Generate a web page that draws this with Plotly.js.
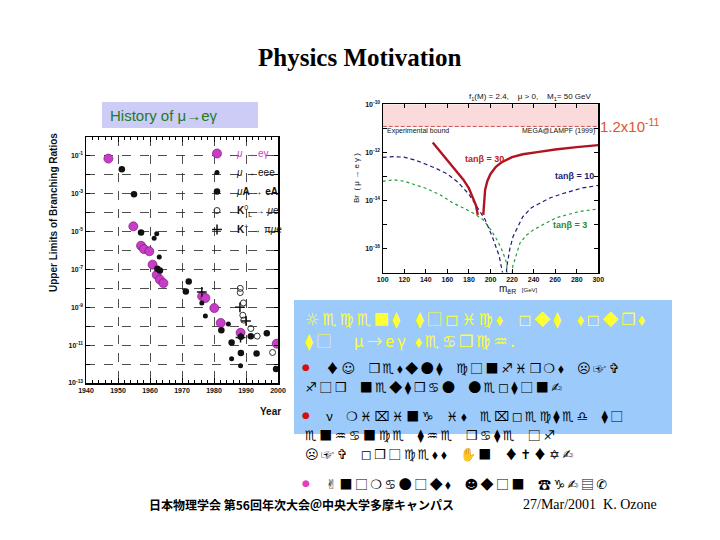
<!DOCTYPE html>
<html><head><meta charset="utf-8">
<script src="https://cdn.plot.ly/plotly-3.0.1.min.js"></script>
<style>body{margin:0;background:#fff}</style>
</head><body>
<div id="chart" style="width:720px;height:540px"></div>
<script>
// ---------- Left chart: history of upper limits ----------
const yearsMEG = [1947.0, 1954.8, 1957.2, 1958.1, 1959.8, 1960.8, 1962.1, 1963.1, 1964.2, 1976.3, 1977.3, 1980.1, 1982.1, 1988.3, 1999.6];
const brMEG    = [7.2e-2, 1.9e-5, 1.8e-6, 1.2e-6, 9.1e-7, 1.8e-7, 5.2e-8, 2.9e-8, 1.9e-8, 3.8e-9, 3.1e-9, 9.1e-10, 1.5e-10, 4.5e-11, 1.2e-11];
const yearsEEE = [1961.3, 1962.1, 1962.9, 1976.2, 1977.3, 1984.5, 1985.5, 1988.3];
const brEEE    = [4.5e-6, 7.6e-6, 4.5e-7, 1.7e-9, 3.5e-10, 1.3e-10, 1.9e-12, 8.1e-13];
const yearsMuA = [1951.2, 1955.0, 1957.2, 1962.3, 1963.1, 1972.1, 1971.2, 1982.3, 1985.5, 1988.4, 1988.4, 1991.5, 1993.3, 1996.5, 1999.4];
const brMuA    = [2.0e-2, 9.5e-4, 9.1e-6, 1.1e-7, 8.9e-8, 2.3e-8, 6.9e-9, 6.2e-11, 1.4e-11, 2.8e-11, 3.9e-12, 3.0e-11, 3.6e-12, 4.2e-11, 5.5e-13];
const yearsKL  = [1988.2, 1988.2, 1989.2, 1989.0, 1989.3, 1991.5, 1993.5, 1998.3];
const brKL     = [1.0e-8, 6.0e-9, 1.7e-9, 3.8e-10, 2.1e-10, 7.6e-11, 3.0e-11, 4.1e-12];
const yearsKp  = [1976.2, 1988.1, 1990.0, 1988.3];
const brKp     = [6.5e-9, 1.0e-9, 1.9e-10, 2.5e-11];
const yearTicks = [1940, 1950, 1960, 1970, 1980, 1990, 2000];
const histYTicks = [1e-13,1e-12,1e-11,1e-10,1e-9,1e-8,1e-7,1e-6,1e-5,1e-4,1e-3,1e-2,1e-1,1];
const histYText  = ['10<sup>-13</sup>','','10<sup>-11</sup>','','10<sup>-9</sup>','','10<sup>-7</sup>','','10<sup>-5</sup>','','10<sup>-3</sup>','','10<sup>-1</sup>',''];

// ---------- Right chart: Br(mu -> e gamma) vs slepton mass ----------
const m30L  = [146.4, 150, 155, 160, 165, 170, 175, 180, 184, 186.5, 188.2];
const br30L = [2.6e-12, 1.66e-12, 8.9e-13, 4.8e-13, 2.5e-13, 1.3e-13, 7.1e-14, 3.2e-14, 1.26e-14, 6.3e-15, 2.5e-15];
const m30R  = [193.3, 194, 195, 197, 200, 205, 210, 220, 230, 245, 260, 280, 300];
const br30R = [2.5e-15, 1.0e-14, 2.75e-14, 6.3e-14, 1.26e-13, 2.5e-13, 3.8e-13, 6.3e-13, 8.3e-13, 1.05e-12, 1.32e-12, 1.66e-12, 2.0e-12];
const m10   = [100, 110, 120, 130, 140, 150, 160, 170, 180, 188, 195, 202, 208, 212, 213, 215, 218, 221, 225, 230, 238, 246, 255, 265, 275, 285, 300];
const br10  = [6.2e-13, 6.6e-13, 6.3e-13, 4.8e-13, 3.2e-13, 2.1e-13, 1.26e-13, 5.6e-14, 1.8e-14, 5.0e-15, 1.6e-15, 2.8e-16, 5.0e-17, 6.3e-18, 1e-19, 1.6e-17, 1.0e-16, 3.2e-16, 7.9e-16, 2.1e-15, 5.0e-15, 7.9e-15, 1.26e-14, 1.8e-14, 2.5e-14, 3.3e-14, 4.2e-14];
const m3    = [100, 110, 120, 131, 140, 153, 165, 175, 185, 193, 200, 206, 211, 215, 217.5, 220.6, 224, 227.4, 233, 240, 250, 261, 272, 283, 300];
const br3   = [6.2e-14, 7.2e-14, 6.3e-14, 4.5e-14, 3.2e-14, 1.74e-14, 7.9e-15, 4.8e-15, 2.8e-15, 1.6e-15, 6.3e-16, 2.3e-16, 7.9e-17, 2.5e-17, 1e-19, 1.8e-17, 6.3e-17, 1.7e-16, 3.5e-16, 6.0e-16, 1.05e-15, 1.9e-15, 2.6e-15, 3.5e-15, 4.4e-15];
const boundM   = [100, 300];
const boundBr  = [1.2e-11, 1.2e-11];
const boundTop = [1e-10, 1e-10];
const massTicks = [100,120,140,160,180,200,220,240,260,280,300];
const brTicks = [1e-17,1e-16,1e-15,1e-14,1e-13,1e-12,1e-11,1e-10];
const brText  = ['','10<sup>-16</sup>','','10<sup>-14</sup>','','10<sup>-12</sup>','','10<sup>-10</sup>'];

// ---------- Slide text ----------
const yellowLines = ['☼♏♍♏■⧫  ⧫□◻♓♍⬧  ◻◆⧫  ⬧◻◆❒⬧', '⧫□   μ→eγ ⬧♏♋❒♍♒.'];
const bulletLines = [
  ['♦☺  ❒♏⬧◆●⧫  ♍□■♐♓❒❍⬧  ☹☞✞', '♐□❒  ■♏◆⧫❒♋●  ●♏◻⧫□■✍'],
  ['ν  ❍♓⌧♓■♑  ♓⬧  ♏⌧◻♏♍⧫♏♎  ⧫□', '♏■♒♋■♍♏  ⧫♒♏  ❒♋⧫♏  □♐', '☹☞✞  ◻❒□♍♏⬧⬧  ✋■  ♦✝♦✡✍'],
  ['✌■□❍♋●□◆⬧  ☻◆□■  ☎♑✍▤✆']
];
const bulletColors = ['#d01010', '#d01010', '#e040c0'];

const W = 720, H = 540;
const px = x => x / W, py = y => 1 - y / H;
function ann(x, y, text, opts) {
  return Object.assign({xref:'paper', yref:'paper', x:px(x), y:py(y), text:text, showarrow:false,
    xanchor:'center', yanchor:'middle'}, opts || {});
}
const sans = 'Liberation Sans, Arial, sans-serif';
const dj = 'Noto Sans CJK JP, DejaVu Sans, sans-serif';

const traces = [
  {type:'scatter', mode:'markers', x:yearsMEG, y:brMEG, xaxis:'x', yaxis:'y', name:'<span style="color:#d040d0"><i>μ</i> → eγ</span>',
   marker:{color:'#c83cc8', size:9, line:{color:'#7a1a7a', width:0.7}}},
  {type:'scatter', mode:'markers', x:yearsEEE, y:brEEE, xaxis:'x', yaxis:'y', name:'<i>μ</i> → eee',
   marker:{color:'#111', size:5}},
  {type:'scatter', mode:'markers', x:yearsMuA, y:brMuA, xaxis:'x', yaxis:'y', name:'<i>μ</i><b>A</b> → <b>eA</b>',
   marker:{color:'#111', size:6.5}},
  {type:'scatter', mode:'markers', x:yearsKL, y:brKL, xaxis:'x', yaxis:'y', name:'<b>K</b><sup>0</sup><sub>L</sub> → <i>μ</i>e',
   marker:{color:'#333', size:6, symbol:'circle-open', line:{width:1}}},
  {type:'scatter', mode:'markers', x:yearsKp, y:brKp, xaxis:'x', yaxis:'y', name:'<b>K</b><sup>+</sup> → π<i>μ</i>e',
   marker:{color:'#111', size:7, symbol:'cross-thin-open', line:{width:1.5, color:'#111'}}},
  // right chart
  {type:'scatter', mode:'lines', x:boundM, y:boundBr, xaxis:'x2', yaxis:'y2', showlegend:false,
   line:{color:'#d05050', width:1, dash:'4px,2px'}},
  {type:'scatter', mode:'lines', x:boundM, y:boundTop, xaxis:'x2', yaxis:'y2', showlegend:false, fill:'tonexty',
   fillcolor:'#fadada', line:{width:0}},
  {type:'scatter', mode:'lines', x:m10, y:br10, xaxis:'x2', yaxis:'y2', showlegend:false,
   line:{color:'#1c1c78', width:1.2, dash:'4px,3px'}},
  {type:'scatter', mode:'lines', x:m3, y:br3, xaxis:'x2', yaxis:'y2', showlegend:false,
   line:{color:'#2a9a3a', width:1.2, dash:'dot'}},
  {type:'scatter', mode:'lines', x:m30L, y:br30L, xaxis:'x2', yaxis:'y2', showlegend:false,
   line:{color:'#b01420', width:2.4}},
  {type:'scatter', mode:'lines', x:m30R, y:br30R, xaxis:'x2', yaxis:'y2', showlegend:false,
   line:{color:'#b01420', width:2.4}}
];

const spaced = {};   // annotation index -> letter spacing (px)
const annotations = [
  ann(360, 58, '<b>Physics Motivation</b>', {font:{family:'Liberation Serif, Times New Roman, serif', size:25, color:'#000'}}),
  ann(108, 116, 'History of μ→eγ', {xanchor:'left', font:{family:sans, size:15, color:'#1e7b1e'}}),
  ann(54, 213, 'Upper Limits of Branching Ratios', {textangle:-90, font:{family:sans, size:10, color:'#111', weight:'bold'}}),
  ann(270, 411, 'Year', {font:{family:sans, size:10, color:'#111', weight:'bold'}}),
  ann(530, 97, 'f<sub>1</sub>(M) = 2.4,    μ > 0,    M<sub>1</sub>= 50 GeV', {font:{family:sans, size:8, color:'#111'}}),
  ann(385, 131, 'Experimental bound', {xanchor:'left', font:{family:sans, size:7, color:'#111'}}),
  ann(597, 131, 'MEGA@LAMPF (1999)', {xanchor:'right', font:{family:sans, size:7, color:'#111'}}),
  ann(598, 125, '1.2x10<sup>-11</sup>', {xanchor:'left', font:{family:sans, size:15, color:'#e0542c'}}),
  ann(484, 159, 'tanβ = 30', {font:{family:sans, size:9, color:'#c02020', weight:'bold'}}),
  ann(574, 176, 'tanβ = 10', {font:{family:sans, size:9, color:'#1c1c78', weight:'bold'}}),
  ann(570, 225, 'tanβ = 3', {font:{family:sans, size:9, color:'#2a8a2a', weight:'bold'}}),
  ann(356, 178, 'Br  ( μ → e γ )', {textangle:-90, font:{family:sans, size:8, color:'#111'}}),
  ann(518, 289, 'm<sub>ẽR</sub>  <span style="font-size:6px">[GeV]</span>', {font:{family:sans, size:10, color:'#111'}}),
  ann(147, 504, '<b>日本物理学会 第56回年次大会＠中央大学多摩キャンパス</b>', {xanchor:'left', font:{family:'Noto Sans CJK JP, sans-serif', size:12, color:'#000'}}),
  ann(590, 504, '27/Mar/2001  K. Ozone', {font:{family:'Liberation Serif, Times New Roman, serif', size:14, color:'#000'}})
];
yellowLines.forEach((t, j) => {
  spaced[annotations.length] = 2.8;
  annotations.push(ann(303, j === 0 ? 318 : 340, t, {xanchor:'left', align:'left', font:{family:dj, size:16, color:'#ffff33'}}));
});

const bulletY = [[367, 386], [415, 434, 453], [483]];
bulletLines.forEach((lines, i) => {
  annotations.push(ann(306, bulletY[i][0], '●', {font:{family:'DejaVu Sans', size:9, color:bulletColors[i]}}));
  lines.forEach((t, j) => {
    spaced[annotations.length] = 2.5;
    annotations.push(ann(j === 0 ? 324 : 303, bulletY[i][j], t, {xanchor:'left', align:'left', font:{family:dj, size:13, color:'#000'}}));
  });
});

const shapes = [
  {type:'rect', xref:'paper', yref:'paper', x0:px(102), x1:px(258), y0:py(128), y1:py(102), fillcolor:'#ccccf6', line:{width:0}, layer:'below'},
  {type:'rect', xref:'paper', yref:'paper', x0:px(294), x1:px(672), y0:py(434), y1:py(300), fillcolor:'#9ccafa', line:{width:0}, layer:'below'}
];

const tickF = {family:sans, size:7, color:'#111', weight:'bold'};
const layout = {
  width:W, height:H, margin:{l:0, r:0, t:0, b:0},
  paper_bgcolor:'#fff', plot_bgcolor:'rgba(0,0,0,0)',
  showlegend:true,
  legend:{x:px(197), y:py(139), xanchor:'left', yanchor:'top', bgcolor:'rgba(0,0,0,0)', traceorder:'normal',
          font:{family:sans, size:10, color:'#111'}, tracegroupgap:0, itemwidth:30},
  xaxis:{domain:[px(86), px(278)], range:[1940, 2000], tickmode:'array', tickvals:yearTicks,
         ticks:'inside', ticklen:5, tickcolor:'#000', showline:true, linecolor:'#000', linewidth:1.5, mirror:'ticks',
         showgrid:true, gridcolor:'#222', griddash:'dash', gridwidth:0.8, zeroline:false, tickfont:tickF,
         minor:{dtick:2, ticks:'inside', ticklen:3, tickcolor:'#000', showgrid:false}},
  yaxis:{domain:[py(383), py(137)], type:'log', range:[-13, 0], tickmode:'array', tickvals:histYTicks, ticktext:histYText,
         ticks:'inside', ticklen:4, tickcolor:'#000', showline:true, linecolor:'#000', linewidth:1.5, mirror:'ticks',
         showgrid:true, gridcolor:'#222', griddash:'dash', gridwidth:0.8, zeroline:false, tickfont:tickF},
  xaxis2:{domain:[px(382.7), px(598.3)], range:[100, 300], tickmode:'array', tickvals:massTicks, anchor:'y2',
         ticks:'inside', ticklen:4, tickcolor:'#000', showline:true, linecolor:'#000', linewidth:1.2, mirror:'ticks',
         showgrid:false, zeroline:false, tickfont:tickF},
  yaxis2:{domain:[py(272.5), py(104.3)], type:'log', range:[-17, -10], tickmode:'array', tickvals:brTicks, ticktext:brText, anchor:'x2',
         ticks:'inside', ticklen:4, tickcolor:'#000', showline:true, linecolor:'#000', linewidth:1.2, mirror:'ticks',
         showgrid:false, zeroline:false, tickfont:tickF},
  annotations:annotations, shapes:shapes
};
Plotly.newPlot('chart', traces, layout, {displayModeBar:false, staticPlot:true}).then(gd => {
  Object.keys(spaced).forEach(i => {
    const t = gd.querySelector('g.annotation[data-index="' + i + '"] text.annotation-text');
    if (t) t.style.letterSpacing = spaced[i] + 'px';
  });
});
</script>
</body></html>
